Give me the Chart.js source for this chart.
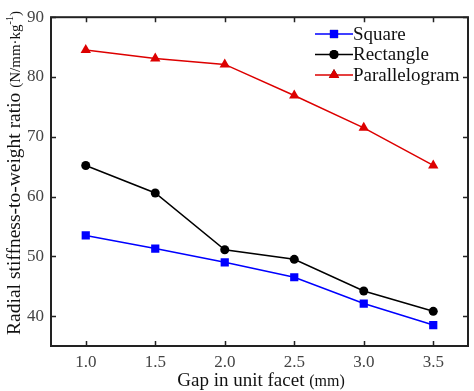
<!DOCTYPE html>
<html>
<head>
<meta charset="utf-8">
<script src="https://cdn.jsdelivr.net/npm/chart.js@4"></script>
<style>
  html, body { margin: 0; padding: 0; background: #fff; }
  #wrap { width: 474px; height: 391px; }
</style>
</head>
<body>
<div id="wrap"><canvas id="chart" width="474" height="391"></canvas></div>
<script>
// Chart data
var gaps = [1.0, 1.5, 2.0, 2.5, 3.0, 3.5];
var squareValues = [53.5, 51.3, 49.0, 46.5, 42.1, 38.5];
var rectangleValues = [65.2, 60.6, 51.1, 49.5, 44.2, 40.8];
var parallelogramValues = [84.5, 83.1, 82.1, 76.9, 71.5, 65.2];
var xTicks = [1.0, 1.5, 2.0, 2.5, 3.0, 3.5];
var yTicks = [40, 50, 60, 70, 80, 90];

var serif = '"Liberation Serif", "Times New Roman", serif';

function toPoints(values) {
  return gaps.map(function (g, i) {
    return { x: g, y: values[i] };
  });
}

// Inward ticks, frame, legend and axis titles
var framePlugin = {
  id: 'frame',
  afterDraw: function (chart) {
    var ctx = chart.ctx;
    var a = chart.chartArea;
    var xs = chart.scales.x;
    var ys = chart.scales.y;
    var len = 5;

    ctx.save();
    ctx.strokeStyle = '#222';
    ctx.lineWidth = 1.5;
    ctx.beginPath();
    xTicks.forEach(function (t) {
      var px = Math.round(xs.getPixelForValue(t)) + 0.5;
      ctx.moveTo(px, a.bottom);
      ctx.lineTo(px, a.bottom - len);
      ctx.moveTo(px, a.top);
      ctx.lineTo(px, a.top + len);
    });
    yTicks.forEach(function (t) {
      var py = Math.round(ys.getPixelForValue(t)) + 0.5;
      ctx.moveTo(a.left, py);
      ctx.lineTo(a.left + len, py);
      ctx.moveTo(a.right, py);
      ctx.lineTo(a.right - len, py);
    });
    ctx.stroke();

    ctx.lineWidth = 2;
    ctx.strokeStyle = '#222';
    ctx.strokeRect(a.left, a.top, a.right - a.left, a.bottom - a.top);

    // legend
    var items = [
      { label: 'Square', ds: chart.data.datasets[0] },
      { label: 'Rectangle', ds: chart.data.datasets[1] },
      { label: 'Parallelogram', ds: chart.data.datasets[2] }
    ];
    ctx.font = '19px ' + serif;
    ctx.textBaseline = 'middle';
    ctx.textAlign = 'left';
    items.forEach(function (it, i) {
      var y = 34 + i * 20.5;
      ctx.strokeStyle = it.ds.borderColor;
      ctx.lineWidth = 1.5;
      ctx.beginPath();
      ctx.moveTo(315, y);
      ctx.lineTo(353, y);
      ctx.stroke();
      Chart.helpers.drawPoint(ctx, {
        pointStyle: it.ds.pointStyle,
        radius: it.ds.pointRadius,
        borderWidth: 0
      }, 334, y);
      ctx.fillStyle = it.ds.pointBackgroundColor;
      ctx.fill();
      ctx.fillStyle = '#111';
      ctx.fillText(it.label, 353, y + 1);
    });

    // x title
    ctx.fillStyle = '#111';
    ctx.textBaseline = 'alphabetic';
    var t1 = 'Gap in unit facet ';
    var t2 = '(mm)';
    ctx.font = '19px ' + serif;
    var w1 = ctx.measureText(t1).width;
    ctx.font = '16px ' + serif;
    var w2 = ctx.measureText(t2).width;
    var sx = 261 - (w1 + w2) / 2;
    ctx.font = '19px ' + serif;
    ctx.fillText(t1, sx, 386);
    ctx.font = '16px ' + serif;
    ctx.fillText(t2, sx + w1, 386);

    // y title
    ctx.translate(20, 173);
    ctx.rotate(-Math.PI / 2);
    var y1 = 'Radial stiffness-to-weight ratio ';
    var y2 = '(N/mm\u00b7kg';
    var y3 = '-1';
    var y4 = ')';
    ctx.font = '19.5px ' + serif;
    var a1 = ctx.measureText(y1).width;
    ctx.font = '15px ' + serif;
    var a2 = ctx.measureText(y2).width;
    ctx.font = '10px ' + serif;
    var a3 = ctx.measureText(y3).width;
    ctx.font = '15px ' + serif;
    var a4 = ctx.measureText(y4).width;
    var st = -(a1 + a2 + a3 + a4) / 2;
    ctx.font = '19.5px ' + serif;
    ctx.fillText(y1, st, 0);
    ctx.font = '15px ' + serif;
    ctx.fillText(y2, st + a1, 0);
    ctx.font = '10px ' + serif;
    ctx.fillText(y3, st + a1 + a2, -7);
    ctx.font = '15px ' + serif;
    ctx.fillText(y4, st + a1 + a2 + a3, 0);
    ctx.restore();
  }
};

var ctx = document.getElementById('chart').getContext('2d');
var chart = new Chart(ctx, {
  type: 'line',
  data: {
    datasets: [
      {
        label: 'Square',
        data: toPoints(squareValues),
        borderColor: '#0000ff',
        backgroundColor: '#0000ff',
        pointBackgroundColor: '#0000ff',
        pointBorderWidth: 0,
        pointStyle: 'rect',
        pointRadius: 5.8,
        borderWidth: 1.5,
        tension: 0
      },
      {
        label: 'Rectangle',
        data: toPoints(rectangleValues),
        borderColor: '#000000',
        backgroundColor: '#000000',
        pointBackgroundColor: '#000000',
        pointBorderWidth: 0,
        pointStyle: 'circle',
        pointRadius: 4.5,
        borderWidth: 1.5,
        tension: 0
      },
      {
        label: 'Parallelogram',
        data: toPoints(parallelogramValues),
        borderColor: '#dd0000',
        backgroundColor: '#dd0000',
        pointBackgroundColor: '#dd0000',
        pointBorderWidth: 0,
        pointStyle: 'triangle',
        pointRadius: 6,
        borderWidth: 1.5,
        tension: 0
      }
    ]
  },
  options: {
    responsive: false,
    animation: false,
    layout: { padding: { top: 5, right: 4, left: 0, bottom: 0 } },
    plugins: {
      legend: { display: false },
      tooltip: { enabled: false }
    },
    scales: {
      x: {
        type: 'linear',
        min: 0.75,
        max: 3.75,
        afterBuildTicks: function (scale) {
          scale.ticks = xTicks.map(function (v) { return { value: v }; });
        },
        afterFit: function (scale) { scale.height = 45; },
        grid: { display: false, drawTicks: false },
        border: { display: false },
        ticks: {
          color: '#444',
          padding: 6,
          maxRotation: 0,
          font: { family: serif, size: 17 },
          callback: function (v) { return v.toFixed(1); }
        }
      },
      y: {
        type: 'linear',
        min: 35,
        max: 90,
        afterBuildTicks: function (scale) {
          scale.ticks = yTicks.map(function (v) { return { value: v }; });
        },
        afterFit: function (scale) { scale.width = 51; },
        grid: { display: false, drawTicks: false },
        border: { display: false },
        ticks: {
          color: '#444',
          padding: 7,
          font: { family: serif, size: 17 }
        }
      }
    }
  },
  plugins: [framePlugin]
});
</script>
</body>
</html>
